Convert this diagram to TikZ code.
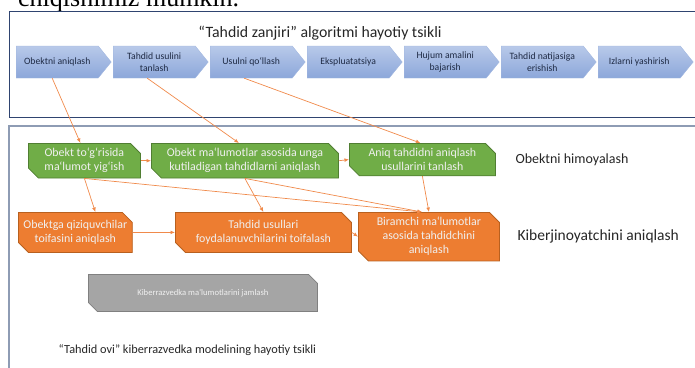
\documentclass[tikz,border=0pt]{standalone}
\usepackage{fontspec}
\setmainfont{Carlito}
\newfontfamily\pageserif{Liberation Serif}
\usetikzlibrary{arrows.meta,shapes.symbols,shapes.misc}
\definecolor{chevtop}{HTML}{B8C9E9}
\definecolor{chevbot}{HTML}{8CA7DA}
\definecolor{chevline}{HTML}{A3B8E0}
\definecolor{chevtext}{HTML}{1E2A44}
\definecolor{framedark}{HTML}{2F4470}
\definecolor{framegray}{HTML}{8E9CB4}
\definecolor{protgreen}{HTML}{70AD47}
\definecolor{protgreenline}{HTML}{507E32}
\definecolor{detorange}{HTML}{ED7D31}
\definecolor{detorangeline}{HTML}{B8601F}
\definecolor{intelgray}{HTML}{A5A5A5}
\definecolor{intelgrayline}{HTML}{808080}
\definecolor{connorange}{HTML}{F08A4B}

\begin{document}
\begin{tikzpicture}[x=1pt, y=-1pt, every node/.style={font=\small}, >={Latex[length=4.5pt,width=3.8pt]},
	chev/.style={signal, signal to=east, signal pointer angle=102, draw=chevline, top color=chevtop, bottom color=chevbot,
		minimum width=95pt, minimum height=32pt, inner sep=1pt, align=center, text=chevtext, anchor=west,
		font=\fontsize{9.7}{12}\selectfont},
	snipbox/.style={chamfered rectangle, chamfered rectangle corners={north east,south west},
		chamfered rectangle xsep=5pt, chamfered rectangle ysep=5pt, line width=0.8pt, inner sep=0pt,
		align=center, anchor=north west, font=\fontsize{11.9}{14}\selectfont, text=white!94!black},
	protbox/.style={snipbox, fill=protgreen, draw=protgreenline},
	detbox/.style={snipbox, fill=detorange, draw=detorangeline},
	intelbox/.style={snipbox, fill=intelgray, draw=intelgrayline, font=\fontsize{8.6}{10}\selectfont},
	conn/.style={draw=connorange, line width=0.7pt, ->},
	lanelabel/.style={anchor=west, font=\fontsize{14}{16}\selectfont, text=black!85}]
	\useasboundingbox (0,0) rectangle (695,367);
	\clip (0,0) rectangle (695,367);
	% page text cut off above the picture
	\node[anchor=base west, inner sep=0pt, font=\pageserif\fontsize{26}{28}\selectfont] (pagetext) at (18,6) {chiqishimiz mumkin.};
	% frames
	\draw[framedark, line width=0.9pt] (9,11) rectangle (710,117);
	\draw[framegray, line width=1.2pt] (9,126) rectangle (710,380);
	\node[font=\fontsize{15.8}{18}\selectfont, text=black!85] (chaintitle) at (320,33) {“Tahdid zanjiri” algoritmi hayotiy tsikli};
	% threat chain
	\foreach \t [count=\i] in {Obektni aniqlash, Tahdid usulini\\tanlash, Usulni qo‘llash, Ekspluatatsiya,
		Hujum amalini\\bajarish, Tahdid natijasiga\\erishish, Izlarni yashirish}
		\node[chev] (ch\i) at ({16+97*(\i-1)},62) {\t};
	% threat hunting model
	\node[protbox, minimum width=112pt, minimum height=29pt] (g1) at (28,143) {Obekt to‘g‘risida\\ma‘lumot yig‘ish};
	\node[protbox, minimum width=187pt, minimum height=31pt] (g2) at (151,143) {Obekt ma‘lumotlar asosida unga\\kutiladigan tahdidlarni aniqlash};
	\node[protbox, minimum width=146pt, minimum height=30pt] (g3) at (349,143) {Aniq tahdidni aniqlash\\usullarini tanlash};
	\node[detbox, minimum width=100pt, minimum height=40pt] (o1) at (18,212) {Obektga qiziquvchilar\\toifasini aniqlash};
	\node[detbox, minimum width=176pt, minimum height=40pt] (o2) at (175,212) {Tahdid usullari\\foydalanuvchilarini toifalash};
	\node[detbox, minimum width=141pt, minimum height=40pt] (o3) at (358,212) {Biramchi ma‘lumotlar\\asosida tahdidchini\\aniqlash};
	\node[intelbox, minimum width=229pt, minimum height=37pt] (intel) at (88,274) {Kiberrazvedka ma‘lumotlarini jamlash};
	\node[lanelabel] (protlabel) at (512,160) {Obektni himoyalash};
	\node[lanelabel, font=\fontsize{15.5}{18}\selectfont] (detlabel) at (514,236) {Kiberjinoyatchini aniqlash};
	\node[anchor=west, font=\fontsize{12.3}{15}\selectfont, text=black!85] (huntitle) at (55,350) {“Tahdid ovi” kiberrazvedka modelining hayotiy tsikli};
	% connectors
	\draw[conn] ([xshift=-5pt]ch1.south) -- ([xshift=-4pt]g1.north);
	\draw[conn] ([xshift=-7pt]ch2.south) -- ([xshift=-6pt]g2.north);
	\draw[conn] ([xshift=-7pt]ch3.south) -- ([xshift=-2pt]g3.north);
	\draw[conn] (g1.east) -- (g2.west);
	\draw[conn] (g2.east) -- (g3.west);
	\draw[conn] (g1.south) -- ([xshift=20pt]o1.north);
	\draw[conn] (g2.south) -- (o2.north);
	\draw[conn] (g3.south) -- (o3.north);
	\draw[conn] (g1.south) -- ([xshift=-7pt]o3.north);
	\draw[conn] (g2.south) -- ([xshift=-7pt]o3.north);
	\draw[conn] (o1.east) -- (o2.west);
	\draw[conn] (o2.east) -- (o3.west);
\end{tikzpicture}
\end{document}
